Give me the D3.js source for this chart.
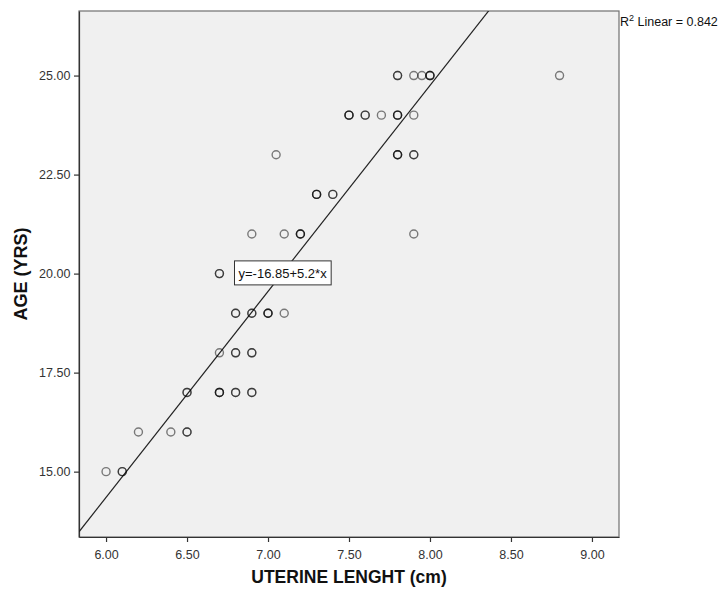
<!DOCTYPE html>
<html>
<head>
<meta charset="utf-8">
<script src="https://cdn.jsdelivr.net/npm/d3@7"></script>
<style>
  html, body { margin: 0; padding: 0; background: #fff; }
  svg { display: block; font-family: "Liberation Sans", Arial, sans-serif; }
</style>
</head>
<body>
<svg id="chart" width="719" height="590"></svg>
<script>
// Data: each observation (duplicates overlap and render darker)
const lengths = [
  6.0, 6.1, 6.1,
  6.2, 6.4, 6.5, 6.5,
  6.5, 6.5, 6.7, 6.7, 6.7, 6.8, 6.8, 6.9, 6.9,
  6.7, 6.8, 6.8, 6.9, 6.9,
  6.8, 6.8, 6.9, 6.9, 7.0, 7.0, 7.0, 7.1,
  6.7, 6.7,
  6.9, 7.1, 7.2, 7.2, 7.2, 7.9,
  7.3, 7.3, 7.3, 7.4, 7.4,
  7.05, 7.8, 7.8, 7.8, 7.9, 7.9,
  7.5, 7.5, 7.5, 7.6, 7.6, 7.7, 7.8, 7.8, 7.8, 7.9,
  7.8, 7.8, 7.9, 7.95, 8.0, 8.0, 8.0, 8.8
];
const ages = [
  15, 15, 15,
  16, 16, 16, 16,
  17, 17, 17, 17, 17, 17, 17, 17, 17,
  18, 18, 18, 18, 18,
  19, 19, 19, 19, 19, 19, 19, 19,
  20, 20,
  21, 21, 21, 21, 21, 21,
  22, 22, 22, 22, 22,
  23, 23, 23, 23, 23, 23,
  24, 24, 24, 24, 24, 24, 24, 24, 24, 24,
  25, 25, 25, 25, 25, 25, 25, 25
];
const xTicks = [6.0, 6.5, 7.0, 7.5, 8.0, 8.5, 9.0];
const yTicks = [15.0, 17.5, 20.0, 22.5, 25.0];
const fitIntercept = -16.85;
const fitSlope = 5.2;
const rSquared = 0.842;
const xTitle = "UTERINE LENGHT (cm)";
const yTitle = "AGE (YRS)";

const svg = d3.select("#chart");
const L = 79, T = 11, R = 619, B = 537;

const x = d3.scaleLinear().domain([5.833, 9.167]).range([L, R]);
const y = d3.scaleLinear().domain([13.35, 26.63]).range([B, T]);

// plot background
svg.append("rect").attr("x", L).attr("y", T).attr("width", R - L).attr("height", B - T)
  .attr("fill", "#f0f0f0").attr("stroke", "#707070").attr("stroke-width", 1.2);

svg.append("defs").append("clipPath").attr("id", "clip")
  .append("rect").attr("x", L).attr("y", T).attr("width", R - L).attr("height", B - T);

// axes
const xAxis = d3.axisBottom(x).tickValues(xTicks).tickFormat(d3.format(".2f")).tickSize(5).tickSizeOuter(0);
const yAxis = d3.axisLeft(y).tickValues(yTicks).tickFormat(d3.format(".2f")).tickSize(5).tickSizeOuter(0);

const gx = svg.append("g").attr("transform", `translate(0,${B})`).call(xAxis);
const gy = svg.append("g").attr("transform", `translate(${L},0)`).call(yAxis);
[gx, gy].forEach(g => {
  g.select(".domain").attr("stroke", "#333").attr("stroke-width", 1.2);
  g.selectAll(".tick line").attr("stroke", "#333").attr("stroke-width", 1.2);
  g.selectAll(".tick text").attr("fill", "#333").attr("font-size", 12.5)
    .attr("font-family", "'Liberation Sans', Arial, sans-serif");
});
gx.selectAll(".tick text").attr("dy", "1.15em");
gy.selectAll(".tick text").attr("dx", "-0.05em");

// fit line
const x0 = x.domain()[0], x1 = x.domain()[1];
svg.append("line").attr("clip-path", "url(#clip)")
  .attr("x1", x(x0)).attr("y1", y(fitIntercept + fitSlope * x0))
  .attr("x2", x(x1)).attr("y2", y(fitIntercept + fitSlope * x1))
  .attr("stroke", "#222").attr("stroke-width", 1.2);

// points
const pts = lengths.map((v, i) => ({ x: v, y: ages[i] }));
svg.append("g").attr("clip-path", "url(#clip)").selectAll("circle").data(pts).join("circle")
  .attr("cx", d => x(d.x)).attr("cy", d => y(d.y)).attr("r", 4)
  .attr("fill", "none").attr("stroke", "#000").attr("stroke-opacity", 0.5).attr("stroke-width", 1.4);

// equation label box, centered on the fit line
const lx = 7.09;
const eq = svg.append("g");
const eqText = eq.append("text").attr("x", x(lx)).attr("y", y(fitIntercept + fitSlope * lx) + 5)
  .attr("text-anchor", "middle").attr("font-size", 13).attr("fill", "#111")
  .text(`y=${fitIntercept}+${fitSlope}*x`);
const bb = eqText.node().getBBox();
eq.insert("rect", "text").attr("x", bb.x - 4).attr("y", y(fitIntercept + fitSlope * lx) - 12)
  .attr("width", bb.width + 8).attr("height", 24)
  .attr("fill", "#fff").attr("stroke", "#333").attr("stroke-width", 1);

// R squared label
const rt = svg.append("text").attr("x", R + 1).attr("y", 26).attr("font-size", 12.5).attr("fill", "#111");
rt.append("tspan").text("R");
rt.append("tspan").attr("font-size", 9).attr("dy", -5).text("2");
rt.append("tspan").attr("dy", 5).text(` Linear = ${rSquared}`);

// titles
svg.append("text").attr("x", (L + R) / 2).attr("y", 583).attr("text-anchor", "middle")
  .attr("font-size", 17.5).attr("font-weight", "bold").attr("fill", "#111").text(xTitle);
svg.append("text").attr("transform", `translate(27,274) rotate(-90)`).attr("text-anchor", "middle")
  .attr("font-size", 18).attr("font-weight", "bold").attr("fill", "#111").text(yTitle);
</script>
</body>
</html>
